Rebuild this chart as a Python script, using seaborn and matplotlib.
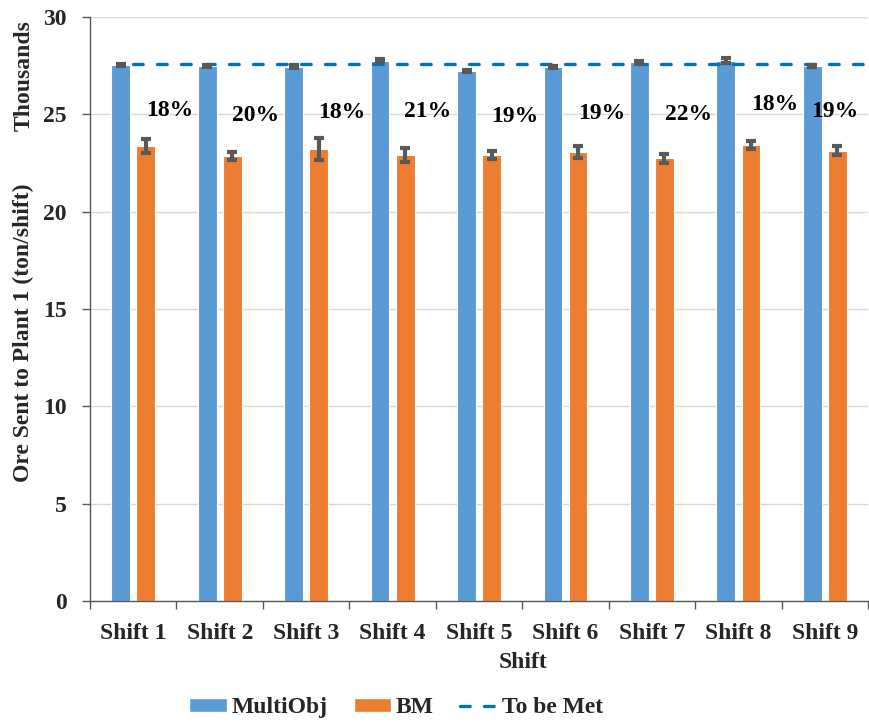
import matplotlib
matplotlib.use("Agg")
import matplotlib.pyplot as plt
from matplotlib.lines import Line2D
from matplotlib.patches import Patch
import seaborn as sns
import pandas as pd
import numpy as np

# Ore tonnage sent to Plant 1 per shift (thousands of tons)
shifts = ["Shift 1", "Shift 2", "Shift 3", "Shift 4", "Shift 5",
          "Shift 6", "Shift 7", "Shift 8", "Shift 9"]
multiobj = [27.53, 27.48, 27.45, 27.75, 27.24, 27.45, 27.67, 27.75, 27.49]
multiobj_err = [0.06, 0.06, 0.06, 0.08, 0.06, 0.05, 0.06, 0.12, 0.06]
bm = [23.37, 22.86, 23.22, 22.91, 22.91, 23.08, 22.74, 23.43, 23.13]
bm_err = [0.37, 0.23, 0.55, 0.38, 0.22, 0.30, 0.22, 0.20, 0.22]
target = 27.6
gain_labels = ["18%", "20%", "18%", "21%", "19%", "19%", "22%", "18%", "19%"]
gain_x_offset = [0.42, 0.42, 0.415, 0.41, 0.415, 0.42, 0.42, 0.42, 0.12]
gain_y = [25.19, 24.93, 25.09, 25.14, 24.88, 25.05, 25.0, 25.53, 25.14]

series = ["MultiObj", "BM"]
colors = {"MultiObj": "#5B9BD5", "BM": "#ED7D31"}
target_color = "#0070C0"

df = pd.DataFrame({
    "Shift": shifts * 2,
    "Series": ["MultiObj"] * len(shifts) + ["BM"] * len(shifts),
    "Tons": multiobj + bm,
})

sns.set_theme(style="white")
plt.rcParams["font.family"] = ["Liberation Serif", "DejaVu Serif"]
plt.rcParams["font.weight"] = "bold"

fig = plt.figure(figsize=(8.69, 7.23), dpi=100)
ax = fig.add_axes([0.1036, 0.1687, 0.8953, 0.8078])

sns.barplot(data=df, x="Shift", y="Tons", hue="Series", order=shifts,
            hue_order=series, palette=colors, saturation=1, width=0.58,
            gap=0.25, errorbar=None, edgecolor="white", linewidth=0.8,
            legend=False, ax=ax)

# Error bars at the centre of each drawn bar
for container, vals, errs in zip(ax.containers, [multiobj, bm], [multiobj_err, bm_err]):
    xs = [p.get_x() + p.get_width() / 2 for p in container.patches]
    ax.errorbar(xs, vals, yerr=errs, fmt="none", ecolor="#595959",
                elinewidth=3, capsize=3.5, capthick=3, zorder=4)

# Required tonnage, from the first shift onwards
target_style = dict(color=target_color, lw=2.4, dashes=(2.9, 4.3),
                    dash_capstyle="round")
ax.plot([0, len(shifts) - 0.5], [target, target], zorder=3.5, **target_style)

# Improvement of MultiObj over BM
for i, (lab, dx, y) in enumerate(zip(gain_labels, gain_x_offset, gain_y)):
    ax.text(i + dx, y, lab, ha="center", va="center", fontsize=17,
            fontweight="bold", color="black", zorder=6)

ax.set_xlim(-0.5, len(shifts) - 0.5)
ax.set_ylim(0, 30)
ax.set_yticks(np.arange(0, 31, 5))
ax.set_yticklabels([str(v) for v in range(0, 31, 5)], fontsize=17, fontweight="bold")
ax.yaxis.grid(True, color="#D9D9D9", lw=1)
ax.set_axisbelow(True)

ax.set_xticks(range(len(shifts)))
ax.set_xticklabels(shifts, fontsize=17, fontweight="bold")
ax.set_xticks(np.arange(-0.5, len(shifts), 1), minor=True)
ax.tick_params(axis="x", which="major", length=0, pad=16)
ax.tick_params(axis="x", which="minor", length=6, width=1, color="#595959",
               direction="out", bottom=True)
ax.tick_params(axis="y", which="major", length=6, width=1, color="#595959",
               direction="out", left=True, pad=11)

for side in ["top", "right"]:
    ax.spines[side].set_visible(False)
for side in ["left", "bottom"]:
    ax.spines[side].set_color("#595959")
    ax.spines[side].set_linewidth(1)

ax.set_xlabel("Shift", fontsize=17, fontweight="bold")
ax.xaxis.set_label_coords(0.556, -0.087)
ax.set_ylabel("Ore Sent to Plant 1 (ton/shift)", fontsize=17, fontweight="bold")
ax.yaxis.set_label_coords(-0.072, 0.459)
ax.text(-0.085, 0.90, "Thousands", transform=ax.transAxes, rotation=90,
        ha="center", va="center", fontsize=17, fontweight="bold")

handles = [Patch(facecolor=colors["MultiObj"], edgecolor="white"),
           Patch(facecolor=colors["BM"], edgecolor="white"),
           Line2D([0], [0], **target_style)]
fig.legend(handles, ["MultiObj", "BM", "To be Met"], loc="center",
           bbox_to_anchor=(0.456, 0.021), ncol=3, frameon=False,
           prop={"size": 17, "weight": "bold"}, handlelength=1.6,
           handleheight=0.5, columnspacing=1.1, handletextpad=0.2,
           borderpad=0.1)

fig.savefig("out.png", dpi=100)
